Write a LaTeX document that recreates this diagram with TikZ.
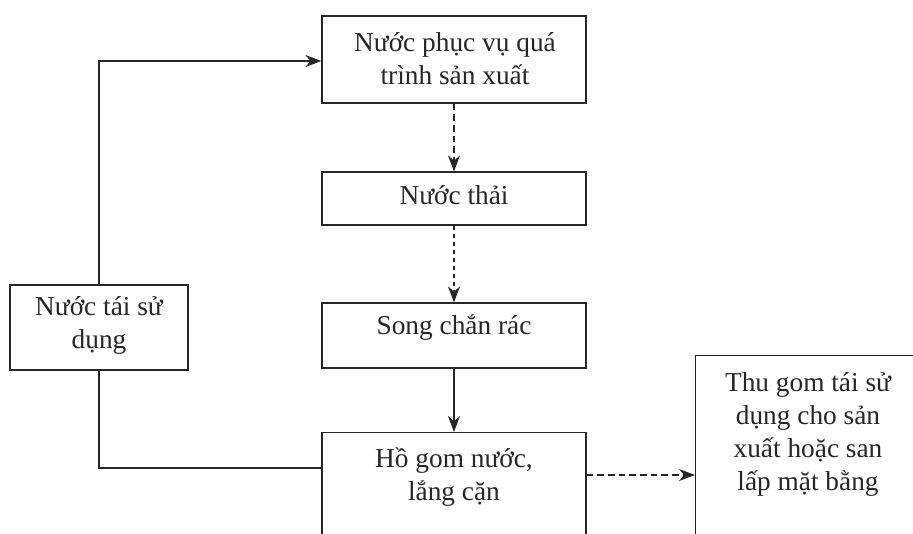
\documentclass[tikz,border=0pt]{standalone}
\usepackage{fontspec}
\setmainfont{Liberation Serif}
\usetikzlibrary{arrows.meta}
\begin{document}
\begin{tikzpicture}[x=0.75pt,y=-0.75pt,
  boxnode/.style={draw=black!85, line width=0.9pt, rectangle, inner sep=0pt},
  txt/.style={align=center, font=\fontsize{20.5}{24.75}\selectfont, text=black!85, inner sep=0pt},
  conn/.style={draw=black!85, line width=0.9pt},
  tip/.style={-{Stealth[length=12pt,width=9pt]}},
  dashline/.style={dash pattern=on 5pt off 3pt}
]
\useasboundingbox (0,0) rectangle (913,533);
\clip (0,0) rectangle (913,533);
% boxes
\node[boxnode, minimum width=264*0.75pt, minimum height=87*0.75pt] (b1) at (454,59.5) {};
\node[txt] (t1) at (455,59) {Nước phục vụ quá\\trình sản xuất};
\node[boxnode, minimum width=264*0.75pt, minimum height=53*0.75pt] (b2) at (454,198.5) {};
\node[txt] (t2) at (454,195) {Nước thải};
\node[boxnode, minimum width=264*0.75pt, minimum height=65*0.75pt] (b3) at (454,335.5) {};
\node[txt] (t3) at (454,328) {Song chắn rác};
\node[boxnode, minimum width=264*0.75pt, minimum height=140*0.75pt, anchor=north] (b4) at (454,432) {};
\node[txt] (t4) at (454,477) {Hồ gom nước,\\lắng cặn};
\node[boxnode, minimum width=178*0.75pt, minimum height=85*0.75pt] (b6) at (99,327.5) {};
\node[txt] (t6) at (99,325) {Nước tái sử\\dụng};
\node[boxnode, minimum width=260*0.75pt, minimum height=200*0.75pt, anchor=north west] (b5) at (695,355) {};
\node[txt] (t5) at (808,434) {Thu gom tái sử\\dụng cho sản\\xuất hoặc  san\\lấp mặt bằng};
% corner coordinates
\coordinate (c1) at (99,61);
\coordinate (c2) at (99,468);
% connectors
\draw[conn, tip, dashline] (b1.south) -- (b2.north);
\draw[conn, tip, dash pattern=on 3pt off 3pt] (b2.south) -- (b3.north);
\draw[conn, tip] (b3.south) -- (b4.north);
\draw[conn, tip, dashline] (b4.east |- 0,475) -- (b5.west |- 0,475);
\draw[conn, tip] (b6.north) -- (c1) -- (b1.west |- c1);
\draw[conn] (b4.west |- c2) -- (c2) -- (b6.south);
\end{tikzpicture}
\end{document}
